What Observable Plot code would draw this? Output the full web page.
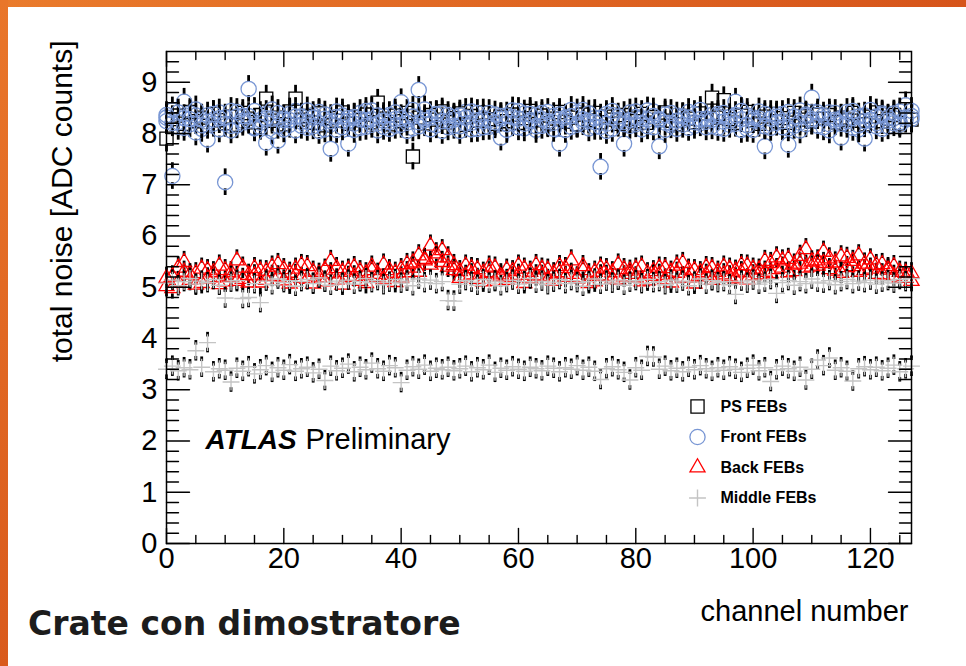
<!DOCTYPE html>
<html><head><meta charset="utf-8">
<script src="https://cdn.jsdelivr.net/npm/d3@7"></script>
<script src="https://cdn.jsdelivr.net/npm/@observablehq/plot@0.6"></script>
<style>
html,body{margin:0;padding:0;background:#fff;}
#page{position:relative;width:966px;height:666px;overflow:hidden;background:#fff;}
#topband{position:absolute;left:0;top:0;width:966px;height:7px;background:linear-gradient(90deg,#ea7b2c,#d6541a);}
#leftband{position:absolute;left:0;top:0;width:8px;height:666px;background:linear-gradient(180deg,#e9762a,#d95a1c);}
#chart{position:absolute;left:0;top:0;}
#caption{position:absolute;left:28px;top:607px;font-family:"DejaVu Sans",sans-serif;font-weight:bold;font-size:33px;line-height:1;color:#1c1c1c;white-space:nowrap;}
</style></head>
<body><div id="page"><div id="topband"></div><div id="leftband"></div><div id="chart"></div><div id="caption">Crate con dimostratore</div></div>
<script>
// ---------- data ----------
const nChannels = 128;
const xTicksMajor = [0, 20, 40, 60, 80, 100, 120];
const yTicksMajor = [0, 1, 2, 3, 4, 5, 6, 7, 8, 9];
const legendLabels = ["PS FEBs", "Front FEBs", "Back FEBs", "Middle FEBs"];
const xTitle = "channel number";
const yTitle = "total noise [ADC counts]";

const psFEB = [
7.90,8.28,8.35,8.19,8.42,8.24,8.31,8.15,8.38,8.26,8.20,8.33,8.17,8.40,8.29,8.22,
8.36,8.68,8.25,8.31,8.18,8.43,8.68,8.27,8.34,8.21,8.39,8.16,8.30,8.25,8.41,8.19,
8.33,8.26,8.37,8.22,8.60,8.29,8.18,8.35,8.24,8.40,7.55,8.31,8.20,8.36,8.27,8.43,
8.22,8.30,8.39,8.17,8.34,8.25,8.41,8.28,8.19,8.33,8.24,8.37,8.21,8.30,8.44,8.26,
8.35,8.20,8.29,8.42,8.23,8.31,8.18,8.37,8.26,8.40,8.22,8.33,8.27,8.19,8.36,8.29,
8.24,8.38,8.21,8.32,8.27,8.41,8.25,8.18,8.34,8.29,8.22,8.39,8.26,8.70,8.31,8.65,
8.28,8.21,8.35,8.42,8.26,8.19,8.33,8.38,8.24,8.30,8.21,8.40,8.27,8.34,8.23,8.37,
8.29,8.36,8.22,8.31,8.27,8.40,8.25,8.18,8.33,8.41,8.24,8.29,8.36,8.20,8.32,8.27];

const front1 = [
8.31,7.17,8.22,8.62,8.18,8.35,8.09,7.88,8.27,8.41,7.05,8.15,8.33,8.21,8.87,8.12,
8.26,8.38,8.04,7.86,8.29,8.17,8.44,8.23,8.11,8.36,8.20,8.08,7.70,8.32,8.25,7.80,
8.19,8.40,8.13,8.28,8.06,8.34,8.22,8.15,8.61,8.27,8.10,8.85,8.30,8.18,8.37,8.05,
8.24,8.33,8.14,8.42,8.21,8.09,8.30,8.26,8.16,7.92,8.35,8.20,8.12,8.39,8.23,8.07,
8.28,8.18,8.34,7.80,8.25,8.13,8.41,8.22,8.10,8.30,7.35,8.19,8.36,8.24,7.80,8.15,
8.32,8.08,8.27,8.43,7.75,8.21,8.16,8.35,8.26,8.11,8.38,8.20,8.29,8.14,8.33,8.23,
8.17,8.62,8.28,8.09,8.31,8.24,7.75,8.19,8.37,8.12,7.78,8.26,8.21,8.34,8.70,8.15,
8.29,8.18,8.40,7.92,8.24,8.11,8.33,7.90,8.27,8.20,8.36,8.14,8.30,8.22,8.55,8.28];

const front2 = [
8.24,8.45,8.13,8.30,8.39,8.02,8.27,8.35,8.19,8.08,8.31,8.44,8.16,8.25,8.34,8.10,
8.21,8.30,8.47,8.15,8.26,8.38,8.06,8.33,8.23,8.14,8.42,8.29,8.18,8.07,8.35,8.24,
8.32,8.11,8.26,8.45,8.20,8.13,8.36,8.28,8.17,8.05,8.33,8.22,8.47,8.31,8.16,8.39,
8.12,8.27,8.35,8.19,8.08,8.40,8.24,8.13,8.37,8.29,8.18,8.32,8.44,8.10,8.26,8.36,
8.15,8.42,8.21,8.28,8.07,8.34,8.19,8.46,8.25,8.13,8.31,8.38,8.09,8.27,8.22,8.41,
8.18,8.30,8.45,8.12,8.26,8.37,8.20,8.09,8.33,8.42,8.15,8.28,8.23,8.36,8.11,8.40,
8.32,8.19,8.07,8.35,8.26,8.43,8.14,8.29,8.21,8.38,8.10,8.33,8.45,8.18,8.24,8.36,
8.12,8.41,8.23,8.30,8.17,8.44,8.08,8.35,8.26,8.14,8.39,8.31,8.20,8.43,8.27,8.34];

const front3 = [
8.36,8.20,8.41,8.11,8.28,8.47,8.16,8.23,8.38,8.30,8.19,8.06,8.42,8.34,8.25,8.44,
8.13,7.82,8.29,8.40,8.08,8.26,8.33,8.15,8.45,8.31,8.05,8.37,8.24,8.43,8.12,8.30,
8.07,8.28,8.44,8.17,8.35,8.25,8.09,8.41,8.30,8.21,8.46,8.14,8.26,8.08,8.38,8.24,
8.36,8.15,8.05,8.31,8.43,8.26,8.12,8.40,8.22,8.34,8.07,8.45,8.29,8.19,8.38,8.14,
8.40,8.24,8.09,8.37,8.31,8.46,8.17,8.28,8.39,8.22,8.13,8.05,8.44,8.33,8.18,8.26,
8.43,8.21,8.14,8.34,8.28,8.07,8.40,8.25,8.17,8.31,8.22,8.46,8.12,8.27,8.38,8.09,
8.25,8.36,8.44,8.16,8.07,8.29,8.38,8.11,8.33,8.24,8.42,8.15,8.06,8.37,8.28,8.41,
8.35,8.06,8.27,8.19,8.42,8.30,8.16,8.24,8.46,8.33,8.09,8.25,8.39,8.17,8.31,8.44];

const back1 = [
5.02,5.21,5.38,5.49,5.14,5.27,5.08,5.33,5.19,5.42,5.11,5.29,5.52,5.16,5.24,5.37,
5.09,5.31,5.22,5.45,5.13,5.28,5.36,5.18,5.41,5.07,5.26,5.34,5.51,5.15,5.30,5.20,
5.39,5.12,5.27,5.33,5.19,5.44,5.24,5.10,5.35,5.29,5.48,5.62,5.55,5.81,5.66,5.72,
5.58,5.43,5.31,5.22,5.37,5.16,5.28,5.40,5.12,5.25,5.34,5.19,5.42,5.08,5.30,5.23,
5.36,5.14,5.27,5.41,5.20,5.52,5.17,5.33,5.25,5.11,5.38,5.22,5.29,5.15,5.35,5.26,
5.19,5.40,5.13,5.31,5.24,5.37,5.09,5.28,5.47,5.18,5.33,5.21,5.39,5.14,5.30,5.25,
5.36,5.17,5.29,5.42,5.23,5.34,5.51,5.27,5.58,5.38,5.55,5.31,5.46,5.74,5.40,5.52,
5.69,5.35,5.48,5.28,5.57,5.41,5.62,5.33,5.54,5.26,5.45,5.37,5.22,5.30,5.18,5.27];

const back2 = [
5.18,4.98,5.10,5.30,5.25,5.05,5.36,5.17,5.29,5.06,5.33,5.20,5.12,5.38,5.09,5.23,
5.32,5.14,5.40,5.21,5.35,5.07,5.24,5.43,5.16,5.30,5.19,5.11,5.27,5.37,5.05,5.34,
5.21,5.31,5.08,5.40,5.26,5.15,5.33,5.28,5.19,5.45,5.38,5.30,5.52,5.44,5.58,5.49,
5.40,5.33,5.18,5.42,5.25,5.35,5.11,5.29,5.38,5.21,5.14,5.31,5.24,5.36,5.17,5.43,
5.22,5.34,5.12,5.29,5.37,5.26,5.19,5.41,5.08,5.30,5.23,5.35,5.16,5.44,5.21,5.32,
5.36,5.11,5.27,5.22,5.38,5.15,5.30,5.42,5.19,5.34,5.07,5.29,5.24,5.37,5.18,5.40,
5.21,5.32,5.43,5.15,5.36,5.25,5.30,5.47,5.35,5.52,5.29,5.44,5.61,5.38,5.50,5.42,
5.47,5.56,5.32,5.60,5.39,5.51,5.30,5.46,5.36,5.43,5.25,5.34,5.41,5.19,5.28,5.12];

const middle1 = [
5.08,5.14,5.03,5.11,5.17,5.06,5.12,5.09,5.15,5.04,4.79,5.10,5.13,4.78,4.80,5.07,
4.70,5.12,5.05,5.16,5.09,5.13,5.02,5.11,5.15,5.07,5.18,5.10,5.04,5.12,5.08,5.14,
5.06,5.11,5.17,5.09,5.13,5.05,5.10,5.15,5.08,5.12,5.03,5.16,5.09,5.14,5.07,5.11,
4.74,4.73,5.06,5.13,5.10,5.04,5.15,5.08,5.12,5.03,5.09,5.14,5.06,5.11,5.17,5.08,
5.12,5.05,5.10,5.15,5.07,5.13,5.09,5.02,5.11,5.16,5.06,5.12,5.08,5.14,5.04,5.10,
5.13,5.07,5.15,5.09,5.11,5.05,5.14,5.08,5.12,5.03,5.10,5.16,5.06,5.13,5.09,5.11,
5.05,4.86,5.12,5.08,5.14,5.06,5.10,5.15,4.88,5.09,5.13,5.04,5.11,5.07,5.16,5.10,
5.08,5.13,5.05,5.11,5.15,5.07,5.12,5.09,5.14,5.06,5.10,5.13,5.08,5.15,5.11,5.17];

const middle2 = [
3.40,3.46,3.37,3.43,3.39,3.76,3.44,3.92,3.35,3.41,3.38,3.15,3.42,3.36,3.45,3.31,
3.39,3.47,3.34,3.43,3.38,3.49,3.36,3.41,3.44,3.33,3.40,3.18,3.46,3.37,3.42,3.50,
3.35,3.44,3.39,3.52,3.41,3.36,3.47,3.43,3.14,3.38,3.45,3.40,3.48,3.36,3.42,3.39,
3.44,3.37,3.41,3.46,3.35,3.43,3.39,3.48,3.34,3.42,3.38,3.45,3.40,3.36,3.44,3.41,
3.37,3.46,3.42,3.35,3.43,3.40,3.47,3.38,3.44,3.36,3.20,3.41,3.45,3.39,3.34,3.19,
3.43,3.38,3.65,3.64,3.40,3.46,3.37,3.42,3.35,3.44,3.39,3.47,3.41,3.36,3.43,3.38,
3.45,3.40,3.34,3.42,3.48,3.37,3.43,3.16,3.39,3.46,3.41,3.36,3.44,3.19,3.40,3.58,
3.47,3.62,3.38,3.43,3.36,3.17,3.41,3.45,3.39,3.44,3.37,3.42,3.48,3.35,3.41,3.46];

// error half-widths (ADC counts)
const errPS = 0.26, errFront = 0.26, errBack = 0.21, errMiddle = 0.2;

// ---------- styles ----------
const styles = {
  "PS FEBs":     {symbol: "square",   r: 7.4, stroke: "#000000", strokeWidth: 1.3, gap: 0.12},
  "Front FEBs":  {symbol: "circle",   r: 7.6, stroke: "#7896d4", strokeWidth: 1.3, gap: 0.13},
  "Back FEBs":   {symbol: "triangle", r: 5.6, stroke: "#ff0000", strokeWidth: 1.3, gap: 0.11},
  "Middle FEBs": {symbol: "plus",     r: 5.5, stroke: "#c4c4c4", strokeWidth: 1.4, gap: 0.11}
};

const seriesList = [
  {group: "PS FEBs", values: psFEB, err: errPS},
  {group: "Front FEBs", values: front1, err: errFront},
  {group: "Front FEBs", values: front2, err: errFront},
  {group: "Front FEBs", values: front3, err: errFront},
  {group: "Back FEBs", values: back1, err: errBack},
  {group: "Back FEBs", values: back2, err: errBack},
  {group: "Middle FEBs", values: middle1, err: errMiddle},
  {group: "Middle FEBs", values: middle2, err: errMiddle}
];

const channels = d3.range(nChannels);
const xTicksMinor = d3.range(0, 128, 5).filter(d => d % 20 !== 0);
const yTicksMinor = d3.range(0, 48).map(i => +(i * 0.2).toFixed(1)).filter(d => !Number.isInteger(d));

const font = "'Liberation Sans', Arial, Helvetica, sans-serif";

const tickShape = {draw(ctx, l) { ctx.moveTo(0, 0); ctx.lineTo(0, -l); }};
const rot = {bottom: 0, top: 180, left: 90, right: -90};
function inTicks(vals, side, len) {
  const horiz = side === "bottom" || side === "top";
  return Plot.vector(vals, {
    ...(horiz ? {x: d => d} : {y: d => d}),
    frameAnchor: side, length: len, rotate: rot[side], anchor: "start",
    shape: tickShape, stroke: "black", strokeWidth: 1.4
  });
}

const marks = [];
for (const s of seriesList) {
  const st = styles[s.group];
  const rows = s.values.map((v, i) => ({ch: channels[i], v, e: s.err}));
  marks.push(Plot.ruleX(rows, {x: "ch", y1: d => d.v + st.gap, y2: d => d.v + d.e, stroke: "black", strokeWidth: 2.8}));
  marks.push(Plot.ruleX(rows, {x: "ch", y1: d => d.v - d.e, y2: d => d.v - st.gap, stroke: "black", strokeWidth: 2.8}));
  marks.push(Plot.dot(rows, {x: "ch", y: "v", symbol: st.symbol, r: st.r, stroke: st.stroke, strokeWidth: st.strokeWidth, fill: "none"}));
}

// axes: inward ticks on all four sides
marks.push(inTicks(xTicksMajor, "bottom", 15), inTicks(xTicksMinor, "bottom", 8));
marks.push(inTicks(xTicksMajor, "top", 15), inTicks(xTicksMinor, "top", 8));
marks.push(inTicks(yTicksMajor, "left", 23), inTicks(yTicksMinor, "left", 12));
marks.push(inTicks(yTicksMajor, "right", 23), inTicks(yTicksMinor, "right", 12));
marks.push(Plot.axisX({ticks: xTicksMajor, tickSize: 0, tickPadding: 4, label: null, fontSize: 29, fontFamily: font}));
marks.push(Plot.axisY({ticks: yTicksMajor, tickSize: 0, tickPadding: 9, label: null, fontSize: 29, fontFamily: font}));
marks.push(Plot.frame({stroke: "black", strokeWidth: 1.5}));

// axis titles
marks.push(Plot.text([yTitle], {text: d => d, frameAnchor: "top-left", dx: -95, dy: -11, rotate: -90,
  textAnchor: "end", lineAnchor: "bottom", fontSize: 30, fontFamily: font, fill: "black"}));
marks.push(Plot.text([xTitle], {text: d => d, frameAnchor: "bottom-right", dx: -3, dy: 77,
  textAnchor: "end", lineAnchor: "bottom", fontSize: 29, fontFamily: font, fill: "black"}));

// ATLAS Preliminary
marks.push(Plot.text(["ATLAS"], {text: d => d, frameAnchor: "top-left", dx: 39, dy: 397,
  textAnchor: "start", lineAnchor: "bottom", fontSize: 28, fontWeight: "bold", fontStyle: "italic", fontFamily: font, fill: "black"}));
marks.push(Plot.text(["Preliminary"], {text: d => d, frameAnchor: "top-left", dx: 139, dy: 397,
  textAnchor: "start", lineAnchor: "bottom", fontSize: 29, fontFamily: font, fill: "black"}));

// legend
legendLabels.forEach((lab, i) => {
  const st = styles[lab];
  const dy = 355 + i * 30.5;
  marks.push(Plot.dot([lab], {frameAnchor: "top-left", dx: 531, dy, symbol: st.symbol, r: st.r, stroke: st.stroke, strokeWidth: st.strokeWidth, fill: "none"}));
  marks.push(Plot.text([lab], {text: d => d, frameAnchor: "top-left", dx: 554, dy, textAnchor: "start", lineAnchor: "middle",
    fontSize: 16, fontWeight: "bold", fontFamily: font, fill: "black"}));
});

const chart = Plot.plot({
  width: 966, height: 666,
  marginLeft: 166, marginRight: 55, marginTop: 51, marginBottom: 123,
  x: {domain: [0, 127], label: null},
  y: {domain: [0, 9.6], label: null},
  style: {background: "transparent", fontFamily: font, fontSize: "29px", color: "black", overflow: "visible"},
  marks
});
document.getElementById("chart").appendChild(chart);
</script></body></html>
